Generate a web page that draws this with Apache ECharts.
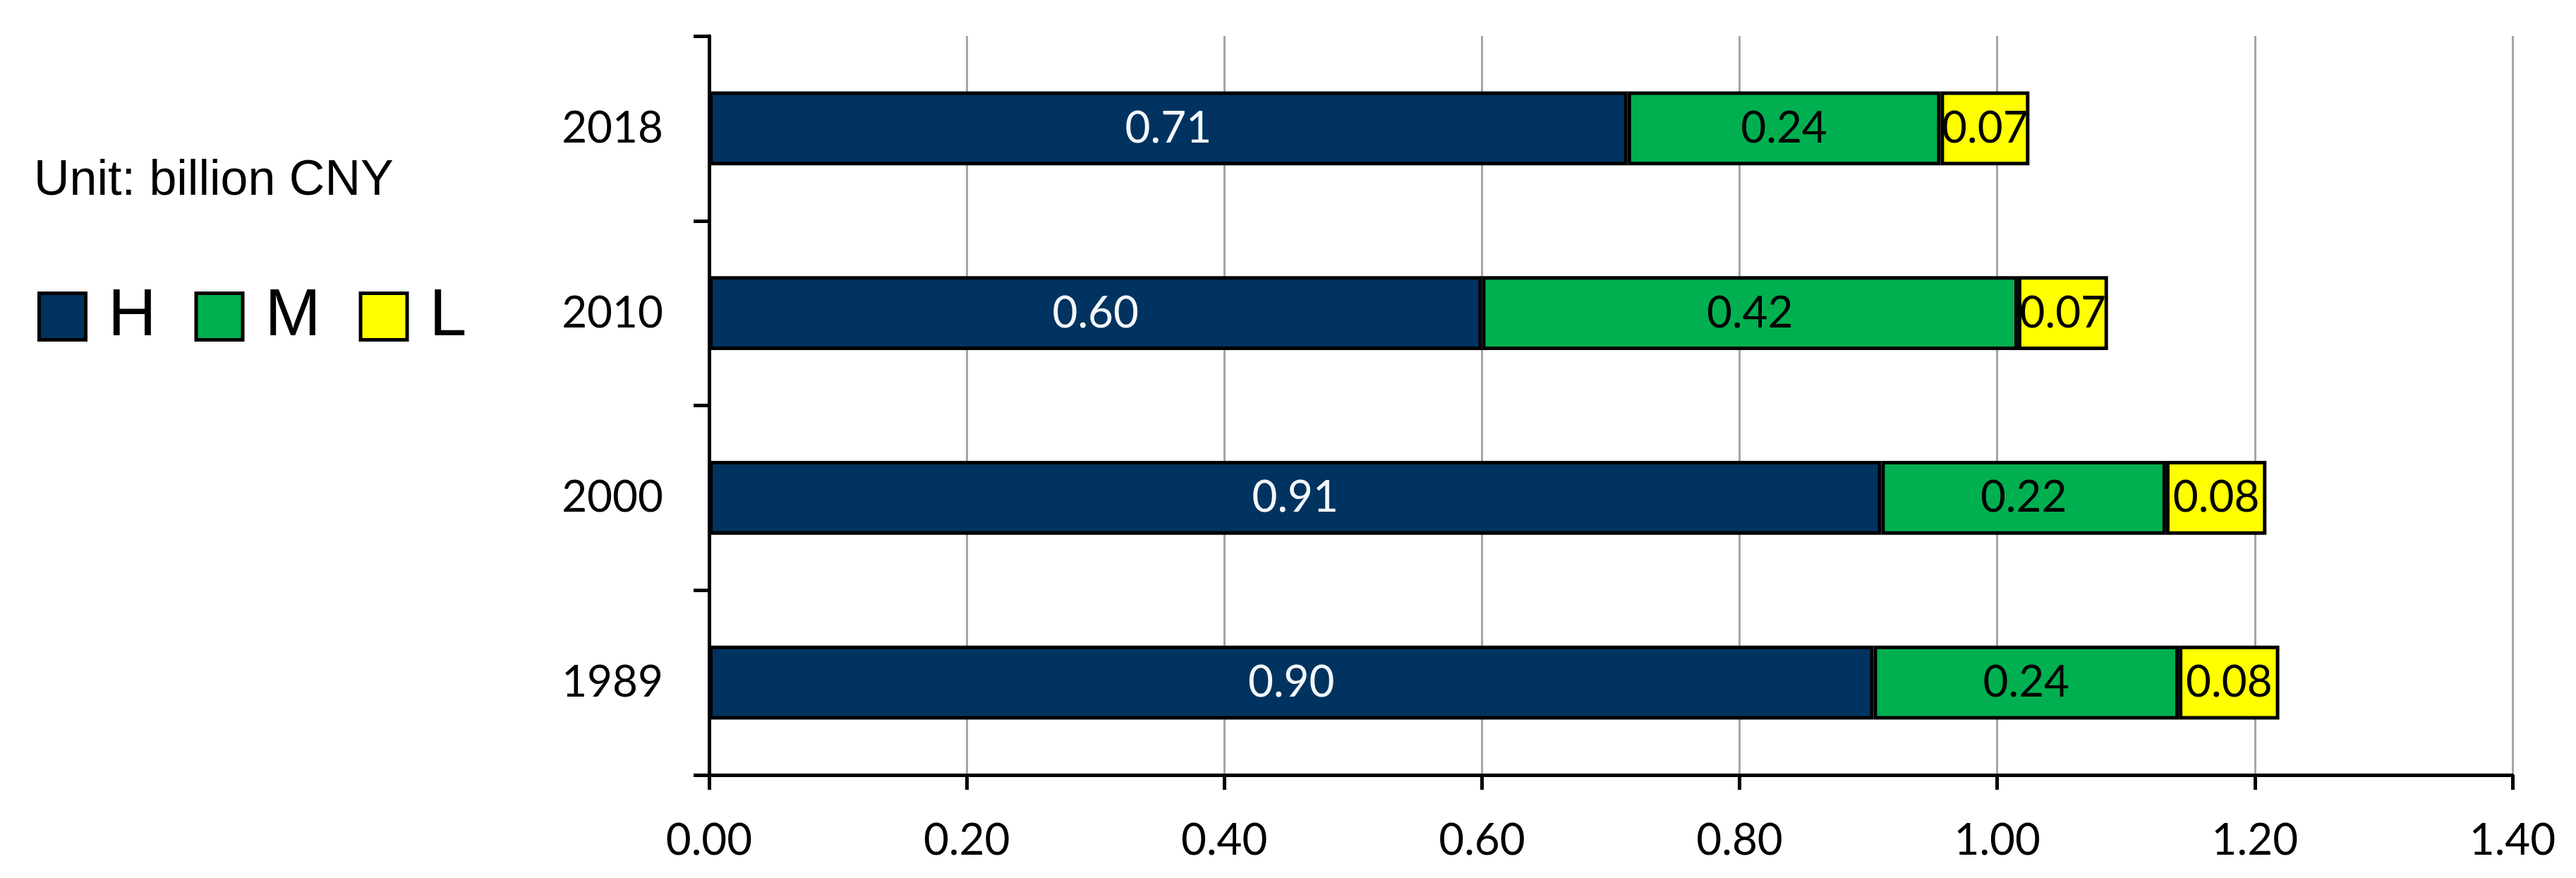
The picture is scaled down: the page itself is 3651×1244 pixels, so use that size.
<!DOCTYPE html>
<html>
<head>
<meta charset="utf-8">
<script src="https://cdn.jsdelivr.net/npm/echarts@6/dist/echarts.min.js"></script>
<style>
html,body{margin:0;padding:0;background:#fff;}
#chart{width:3651px;height:1244px;}
</style>
</head>
<body>
<div id="chart"></div>
<script>
const years = ['1989', '2000', '2010', '2018'];
const seriesNames = ['H', 'M', 'L'];
const valuesH = [0.904, 0.910, 0.600, 0.713];
const valuesM = [0.237, 0.221, 0.416, 0.243];
const valuesL = [0.078, 0.078, 0.070, 0.069];
const xTicks = { min: 0, max: 1.4, interval: 0.2 };
const unitText = 'Unit: billion CNY';

const colors = ['#00335F', '#00B050', '#FFFF00'];
const labelColors = ['#f4f8fc', '#000000', '#000000'];
const numFont = 'Lato';

const chart = echarts.init(document.getElementById('chart'), null, { renderer: 'canvas' });

const allValues = [valuesH, valuesM, valuesL];
const series = seriesNames.map((name, i) => ({
  name: name,
  type: 'bar',
  stack: 'total',
  data: allValues[i],
  barCategoryGap: '60%',
  itemStyle: { color: colors[i], borderColor: '#000000', borderWidth: 5 },
  label: {
    show: true,
    position: 'inside',
    color: labelColors[i],
    fontFamily: numFont,
    fontSize: 62,
    formatter: p => p.value.toFixed(2)
  },
  emphasis: { disabled: true },
  animation: false
}));

chart.setOption({
  animation: false,
  backgroundColor: '#ffffff',
  title: {
    text: unitText,
    left: 48,
    top: 222,
    padding: 0,
    textStyle: { fontFamily: 'Liberation Sans', fontSize: 70, fontWeight: 'normal', color: '#000', lineHeight: 70 }
  },
  legend: {
    data: seriesNames,
    left: 53,
    top: 401,
    padding: 0,
    orient: 'horizontal',
    itemWidth: 66,
    itemHeight: 66,
    itemGap: 54,
    icon: 'rect',
    formatter: n => ' ' + n,
    itemStyle: { borderColor: '#000000', borderWidth: 5 },
    textStyle: { fontFamily: 'Liberation Sans', fontSize: 95, color: '#000', lineHeight: 95 }
  },
  grid: { left: 1005, right: 90, top: 51, bottom: 146, containLabel: false },
  xAxis: {
    type: 'value',
    min: xTicks.min,
    max: xTicks.max,
    interval: xTicks.interval,
    axisLine: { show: true, lineStyle: { color: '#000', width: 5 } },
    axisTick: { show: true, inside: false, length: 21, lineStyle: { color: '#000', width: 5 } },
    splitLine: { show: true, lineStyle: { color: '#a6a6a6', width: 3 } },
    axisLabel: { margin: 62, fontFamily: numFont, fontSize: 62, color: '#000', formatter: v => v.toFixed(2) }
  },
  yAxis: {
    type: 'category',
    data: years,
    axisLine: { show: true, lineStyle: { color: '#000', width: 5 } },
    axisTick: { show: true, inside: false, length: 22, lineStyle: { color: '#000', width: 5 } },
    axisLabel: { margin: 65, fontFamily: numFont, fontSize: 62, color: '#000' },
    splitLine: { show: false }
  },
  series: series
});
</script>
</body>
</html>
